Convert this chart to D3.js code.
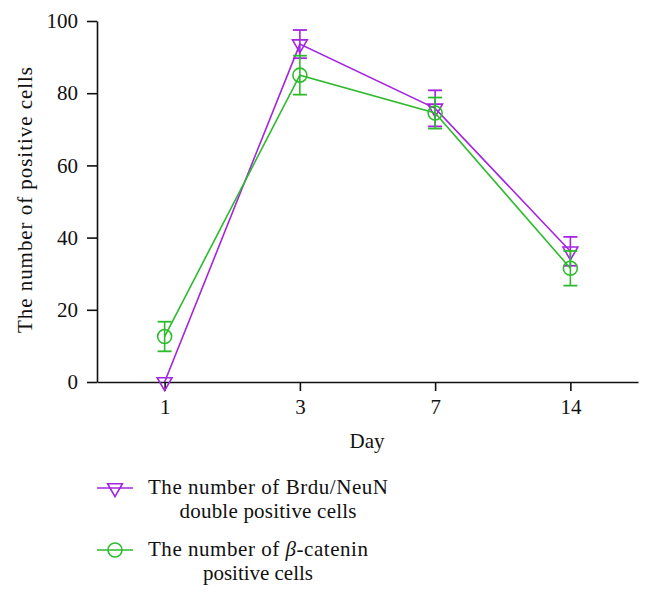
<!DOCTYPE html>
<html><head><meta charset="utf-8">
<script src="https://cdn.jsdelivr.net/npm/d3@7"></script>
<style>body{margin:0;background:#fff}svg{display:block}text{font-family:"Liberation Serif","Times New Roman",serif;fill:#111}</style>
</head><body><svg id="c" width="652" height="599"></svg>
<script>
const days = ["1","3","7","14"];
const brduMean = [0, 93.6, 75.8, 36.2];
const brduErr  = [0, 3.9, 5.0, 4.0];
const cateninMean = [12.6, 85.0, 74.5, 31.5];
const cateninErr  = [4.1, 5.4, 4.3, 4.8];
const yTicks = [0, 20, 40, 60, 80, 100];
const purple = "#a424e0", green = "#2dbb2d";

const svg = d3.select("#c");
const x = d3.scalePoint().domain(days).range([97, 638]).padding(0.5);
const y = d3.scaleLinear().domain([0, 100]).range([382, 21]);

const yAx = svg.append("g").attr("transform","translate(97,0)")
  .call(d3.axisLeft(y).tickValues(yTicks).tickSize(10).tickPadding(9).tickSizeOuter(0));
const xAx = svg.append("g").attr("transform","translate(0,382)")
  .call(d3.axisBottom(x).tickSize(9).tickPadding(8).tickSizeOuter(0));
[yAx,xAx].forEach(a=>{
  a.selectAll("path,line").attr("stroke","#111").attr("stroke-width",1.6);
  a.selectAll("text").style("font-size","21px").attr("fill","#111");
});

svg.append("text").attr("transform","translate(32,200) rotate(-90)").attr("text-anchor","middle")
  .style("font-size","21px").attr("textLength",266).attr("lengthAdjust","spacing").text("The number of positive cells");
svg.append("text").attr("x",367).attr("y",448).attr("text-anchor","middle").style("font-size","21px").text("Day");

const tri = d3.symbol().type(d3.symbolTriangle).size(95);
function drawSeries(means, errs, color, marker){
  const g = svg.append("g");
  const pts = days.map((d,i)=>({d, m:means[i], e:errs[i]}));
  g.append("path").datum(pts).attr("fill","none").attr("stroke",color).attr("stroke-width",1.6)
    .attr("d", d3.line().x(p=>x(p.d)).y(p=>y(p.m)));
  pts.filter(p=>p.e>0).forEach(p=>{
    const cx = x(p.d);
    g.append("line").attr("x1",cx).attr("x2",cx).attr("y1",y(p.m+p.e)).attr("y2",y(p.m-p.e)).attr("stroke",color).attr("stroke-width",1.6);
    [p.m+p.e, p.m-p.e].forEach(v=>g.append("line").attr("x1",cx-7).attr("x2",cx+7).attr("y1",y(v)).attr("y2",y(v)).attr("stroke",color).attr("stroke-width",1.8));
  });
  pts.forEach(p=>marker(g, x(p.d), y(p.m)));
}
const triMarker = (g,cx,cy)=>g.append("path").attr("d",tri).attr("transform",`translate(${cx},${cy}) rotate(180)`)
  .attr("fill","none").attr("stroke",purple).attr("stroke-width",1.6);
const circMarker = (g,cx,cy)=>g.append("circle").attr("cx",cx).attr("cy",cy).attr("r",7)
  .attr("fill","none").attr("stroke",green).attr("stroke-width",1.6);

drawSeries(brduMean, brduErr, purple, triMarker);
drawSeries(cateninMean, cateninErr, green, circMarker);

// legend
const leg = [
  {c:purple, m:triMarker, y:488, l1:[["The number of Brdu/NeuN",false]], w1:240, l2:"double positive cells", w2:177},
  {c:green, m:circMarker, y:550, l1:[["The number of ",false],["β",true],["-catenin",false]], w1:220, l2:"positive cells", w2:110}
];
leg.forEach(L=>{
  const g = svg.append("g");
  g.append("line").attr("x1",97).attr("x2",133).attr("y1",L.y).attr("y2",L.y).attr("stroke",L.c).attr("stroke-width",1.6);
  L.m(g,115,L.y);
  const t1 = g.append("text").attr("x",148).attr("y",L.y+6).style("font-size","21px")
    .attr("textLength",L.w1).attr("lengthAdjust","spacing");
  L.l1.forEach(([s,it])=>t1.append("tspan").style("font-style",it?"italic":"normal").text(s));
  g.append("text").attr("x",148+L.w1/2).attr("y",L.y+30).attr("text-anchor","middle").style("font-size","21px")
    .attr("textLength",L.w2).attr("lengthAdjust","spacing").text(L.l2);
});
</script></body></html>
